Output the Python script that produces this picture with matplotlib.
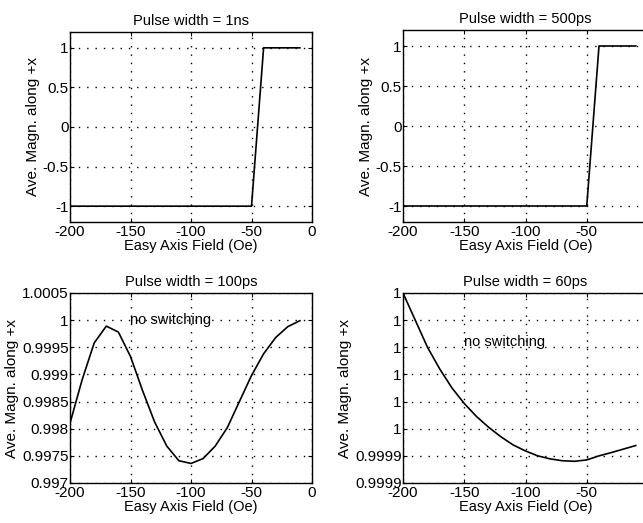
import numpy as np
import matplotlib
matplotlib.use("Agg")
import matplotlib.pyplot as plt
from matplotlib.ticker import FixedLocator, FixedFormatter

# === DONNÉES ===
# panneaux du haut : bascule de -1 à +1
field_step = [-200, -50, -40, -10]
magn_1ns = [-1, -1, 1, 1]
magn_500ps = [-1, -1, 1, 1]

# panneaux du bas : pas de 10 Oe
field_fine = [-200, -190, -180, -170, -160, -150, -140, -130, -120, -110,
              -100, -90, -80, -70, -60, -50, -40, -30, -20, -10]
magn_100ps = [0.99810, 0.99890, 0.99958, 0.99989, 0.99978, 0.99933, 0.99870,
              0.99812, 0.99768, 0.99741, 0.99736, 0.99745, 0.99768, 0.99802,
              0.99850, 0.99898, 0.99938, 0.99968, 0.99988, 0.99999]
magn_60ps = [1.0000000, 0.9999900, 0.9999800, 0.9999720, 0.9999650, 0.9999593,
             0.9999545, 0.9999505, 0.9999470, 0.9999440, 0.9999418, 0.9999400,
             0.9999389, 0.9999382, 0.9999380, 0.9999385, 0.9999400, 0.9999412,
             0.9999425, 0.9999438]

titles = ["Pulse width = 1ns", "Pulse width = 500ps",
          "Pulse width = 100ps", "Pulse width = 60ps"]
x_ticks = [-200, -150, -100, -50, 0]
y_ticks_top = [-1, -0.5, 0, 0.5, 1]
y_labels_top = ["-1", "-0.5", "0", "0.5", "1"]
y_ticks_100 = [0.997, 0.9975, 0.998, 0.9985, 0.999, 0.9995, 1.0, 1.0005]
y_labels_100 = ["0.997", "0.9975", "0.998", "0.9985", "0.999", "0.9995", "1", "1.0005"]
y_ticks_60 = [0.99993, 0.99994, 0.99995, 0.99996, 0.99997, 0.99998, 0.99999, 1.0]
y_labels_60 = ["0.9999", "0.9999", "1", "1", "1", "1", "1", "1"]

# ───── Style global ─────
plt.rcParams.update({
    "font.family": ["Liberation Sans", "DejaVu Sans"],
    "font.size": 11,
    "axes.linewidth": 1.0,
    "xtick.direction": "in",
    "ytick.direction": "in",
    "xtick.major.size": 3,
    "ytick.major.size": 3,
    "xtick.major.pad": 2,
    "ytick.major.pad": 1,
})

W, H = 643, 523
fig = plt.figure(figsize=(W / 100, H / 100), dpi=100)


def px_axes(left, top, right, bottom):
    return fig.add_axes([left / W, 1 - bottom / H, (right - left) / W, (bottom - top) / H])


axes = [
    px_axes(70, 32, 312, 222),
    px_axes(403, 30, 648, 222),
    px_axes(70, 293, 312, 483),
    px_axes(403, 293, 648, 483),
]

axes[0].plot(field_step, magn_1ns, color="black", lw=1.2)
axes[1].plot(field_step, magn_500ps, color="black", lw=1.2)
axes[2].plot(field_fine, magn_100ps, color="black", lw=1.2)
axes[3].plot(field_fine, magn_60ps, color="black", lw=1.2)

for ax in axes[:2]:
    ax.set_ylim(-1.2, 1.2)
    ax.yaxis.set_major_locator(FixedLocator(y_ticks_top))
    ax.yaxis.set_major_formatter(FixedFormatter(y_labels_top))

axes[2].set_ylim(0.997, 1.0005)
axes[2].yaxis.set_major_locator(FixedLocator(y_ticks_100))
axes[2].yaxis.set_major_formatter(FixedFormatter(y_labels_100))

axes[3].set_ylim(0.99993, 1.0)
axes[3].yaxis.set_major_locator(FixedLocator(y_ticks_60))
axes[3].yaxis.set_major_formatter(FixedFormatter(y_labels_60))

axes[2].text(-150, 1.0, "no switching", ha="left", va="center", fontsize=10.5)
axes[3].text(-150, 0.999982, "no switching", ha="left", va="center", fontsize=10.5)

for ax, title in zip(axes, titles):
    ax.set_xlim(-200, 0)
    ax.set_xticks(x_ticks)
    ax.set_xticklabels([str(t) for t in x_ticks])
    ax.set_title(title, fontsize=10.5, pad=5)
    ax.set_xlabel("Easy Axis Field (Oe)", fontsize=10.5, labelpad=0)
    ax.set_ylabel("Ave. Magn. along +x", fontsize=11, labelpad=2)
    ax.grid(True, color="black", linestyle=(0, (1, 5)), linewidth=1.0)
    ax.tick_params(top=True, right=True)

fig.savefig("out.png", dpi=100)
